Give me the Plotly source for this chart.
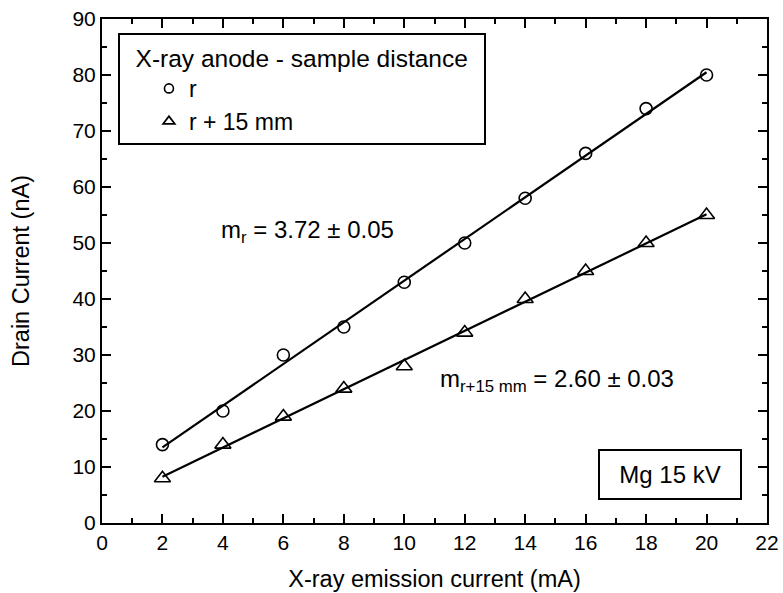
import numpy as np
import plotly.graph_objects as go

x_vals = [2, 4, 6, 8, 10, 12, 14, 16, 18, 20]
y_r = [14, 20, 30, 35, 43, 50, 58, 66, 74, 80]
y_r15 = [8, 14, 19, 24, 28, 34, 40, 45, 50, 55]
x_ticks = list(range(0, 23, 2))
y_ticks = list(range(0, 91, 10))

FONT = "Liberation Sans, Arial, sans-serif"
NB = "\u00a0"

fig = go.Figure()

xa = np.array(x_vals, dtype=float)
for ys, sym, sz in [(y_r, "circle-open", 12), (y_r15, "triangle-up-open", 14)]:
    m, b = np.polyfit(xa, np.array(ys, dtype=float), 1)
    fig.add_trace(go.Scatter(x=[xa.min(), xa.max()], y=[m * xa.min() + b, m * xa.max() + b],
                             mode="lines", line=dict(color="black", width=2.2), showlegend=False,
                             hoverinfo="skip"))
    fig.add_trace(go.Scatter(x=x_vals, y=ys, mode="markers",
                             marker=dict(symbol=sym, size=sz, color="black", line=dict(width=1.6, color="black")),
                             showlegend=False))

# legend-only entries
fig.add_trace(go.Scatter(x=[None], y=[None], mode="markers", name="r",
                         marker=dict(symbol="circle-open", size=9, color="black", line=dict(width=1.6, color="black"))))
fig.add_trace(go.Scatter(x=[None], y=[None], mode="markers", name="r + 15 mm",
                         marker=dict(symbol="triangle-up-open", size=10, color="black", line=dict(width=1.8, color="black"))))

axis_common = dict(showline=True, linecolor="black", linewidth=2, mirror="ticks",
                   ticks="inside", ticklen=9, tickwidth=2, tickcolor="black",
                   showgrid=False, zeroline=False, automargin=False,
                   tickfont=dict(family=FONT, size=21, color="black"),
                   minor=dict(ticks="inside", ticklen=5, tickwidth=2, tickcolor="black"))

fig.update_xaxes(range=[0, 22], tickvals=x_ticks, **axis_common,
                 title=dict(text="X-ray emission current (mA)", font=dict(family=FONT, size=23.5, color="black"), standoff=17))
fig.update_yaxes(range=[0, 90], tickvals=y_ticks, **axis_common,
                 title=dict(text="Drain Current (nA)", font=dict(family=FONT, size=23.5, color="black"), standoff=36))
fig.update_xaxes(minor_dtick=1)
fig.update_yaxes(minor_dtick=5)

fig.add_annotation(x=3.87, y=52.0, xref="x", yref="y", xanchor="left", yanchor="middle",
                   text="m<sub>r</sub> = 3.72 ± 0.05", showarrow=False,
                   font=dict(family=FONT, size=24, color="black"))
fig.add_annotation(x=11.13, y=25.5, xref="x", yref="y", xanchor="left", yanchor="middle",
                   text="m<sub>r+15 mm</sub> = 2.60 ± 0.03", showarrow=False,
                   font=dict(family=FONT, size=24, color="black"))
fig.add_annotation(x=18.8, y=8.6, xref="x", yref="y", xanchor="center", yanchor="middle",
                   text="Mg 15 kV", showarrow=False, bordercolor="black", borderwidth=2,
                   borderpad=10, width=120,
                   font=dict(family=FONT, size=24, color="black"))

fig.update_layout(
    width=783, height=593,
    margin=dict(l=102, r=16, t=19, b=70),
    plot_bgcolor="white", paper_bgcolor="white",
    legend=dict(x=0.024, y=0.972, xanchor="left", yanchor="top",
                bordercolor="black", borderwidth=2, bgcolor="white",
                title=dict(text=NB * 2 + "X-ray anode - sample distance" + NB * 2,
                           font=dict(family=FONT, size=24.5, color="black")),
                font=dict(family=FONT, size=23, color="black"), indentation=29,
                tracegroupgap=0),
)

fig.write_html("out.html")
